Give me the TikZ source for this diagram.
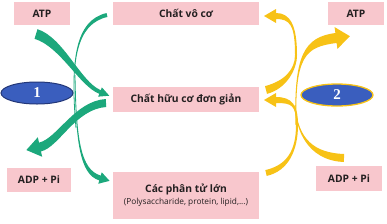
\documentclass[tikz,border=0pt]{standalone}
\usepackage{fontspec}
\setmainfont{Open Sans}
\newfontfamily\numfont{Liberation Serif}
\usetikzlibrary{calc,shapes.geometric}

\definecolor{boxpink}{RGB}{248,199,205}
\definecolor{arrgreen}{RGB}{28,168,124}
\definecolor{arryellow}{RGB}{247,194,22}
\definecolor{ovalblue}{RGB}{58,94,190}
\definecolor{ovalline}{RGB}{35,55,120}
\definecolor{txtdark}{RGB}{35,31,32}

% tapered band: colour, start, control 1, control 2, end, start half-width, end half-width
\newcommand{\ribbon}[7]{%
  \fill[#1] ($(#2)!#6!90:(#3)$) .. controls ($(#3)!#6!-90:(#2)$) and ($(#4)!#7!90:(#5)$) .. ($(#5)!#7!-90:(#4)$)
    -- ($(#5)!#7!90:(#4)$) .. controls ($(#4)!#7!-90:(#5)$) and ($(#3)!#6!90:(#2)$) .. ($(#2)!#6!-90:(#3)$) -- cycle;}
% same band with a head: ... head half-width, head length
\newcommand{\ribbonhead}[9]{%
  \fill[#1] ($(#2)!#6!90:(#3)$) .. controls ($(#3)!#6!-90:(#2)$) and ($(#4)!#7!90:(#5)$) .. ($(#5)!#7!-90:(#4)$)
    -- ($(#5)!#8!-90:(#4)$) -- ($(#5)!#9!180:(#4)$) -- ($(#5)!#8!90:(#4)$)
    -- ($(#5)!#7!90:(#4)$) .. controls ($(#4)!#7!-90:(#5)$) and ($(#3)!#6!90:(#2)$) .. ($(#2)!#6!-90:(#3)$) -- cycle;}

\tikzset{
  box/.style={fill=boxpink, text=txtdark, inner sep=0pt, font=\bfseries\fontsize{10.3}{12}\selectfont},
  oval/.style={ellipse, fill=ovalblue, minimum width=72pt, minimum height=22pt, inner sep=0pt,
    text=white, font=\numfont\bfseries\fontsize{15}{15}\selectfont},
}

\begin{document}
\begin{tikzpicture}[x=1pt,y=-1pt]
  \useasboundingbox (0,0) rectangle (387,223);

  % left side
  \ribbonhead{arrgreen}{36,34}{62,42}{80,84}{100,92}{5pt}{2pt}{5pt}{10pt}
  \ribbon{arrgreen}{76,128}{70,60}{76,22}{107,15}{0.4pt}{2pt}
  \ribbonhead{arrgreen}{106,103}{75,105}{58,143}{40,147}{4pt}{4.5pt}{10pt}{14pt}
  \ribbonhead{arrgreen}{75,75}{76,140}{80,172}{100,178}{0.4pt}{2.5pt}{6pt}{10pt}

  % right side
  \ribbon{arryellow}{266,90}{285,85}{296,70}{296,55}{4pt}{1pt}
  \ribbonhead{arryellow}{296,55}{296,25}{290,16}{276,16}{1pt}{3pt}{7pt}{12pt}
  \ribbonhead{arryellow}{296,125}{294,55}{305,42}{336,38}{0.5pt}{5pt}{11pt}{14pt}
  \ribbon{arryellow}{266,173}{288,168}{297,150}{297,125}{3pt}{1pt}
  \ribbonhead{arryellow}{297,125}{297,105}{292,100}{276,100}{1pt}{3pt}{7pt}{12pt}
  \ribbon{arryellow}{295,105}{297,140}{315,157}{344,158}{0.5pt}{4pt}

  \node[box, minimum width=56pt, minimum height=23pt] (atpL) at (42,13.5) {ATP};
  \node[box, minimum width=146pt, minimum height=23pt] (voco) at (186,13.5) {Chất vô cơ};
  \node[box, minimum width=56pt, minimum height=23pt] (atpR) at (356,13.5) {ATP};
  \node[box, minimum width=146pt, minimum height=25pt] (huuco) at (186,99.5) {Chất hữu cơ đơn giản};
  \node[box, minimum width=64pt, minimum height=24pt] (adpL) at (39,180) {ADP + Pi};
  \node[box, minimum width=66pt, minimum height=25pt] (adpR) at (349,178.5) {ADP + Pi};
  \node[box, minimum width=146pt, minimum height=47pt, align=center] (lon) at (186,195.5)
    {Các phân tử lớn\\[0pt]{\mdseries\fontsize{8.3}{10}\selectfont (Polysaccharide, protein, lipid,...)}};

  \node[oval, draw=ovalline, line width=1pt] (one) at (37,93) {1};
  \node[oval, draw=arryellow, line width=1.3pt] (two) at (337,95) {2};
\end{tikzpicture}
\end{document}
